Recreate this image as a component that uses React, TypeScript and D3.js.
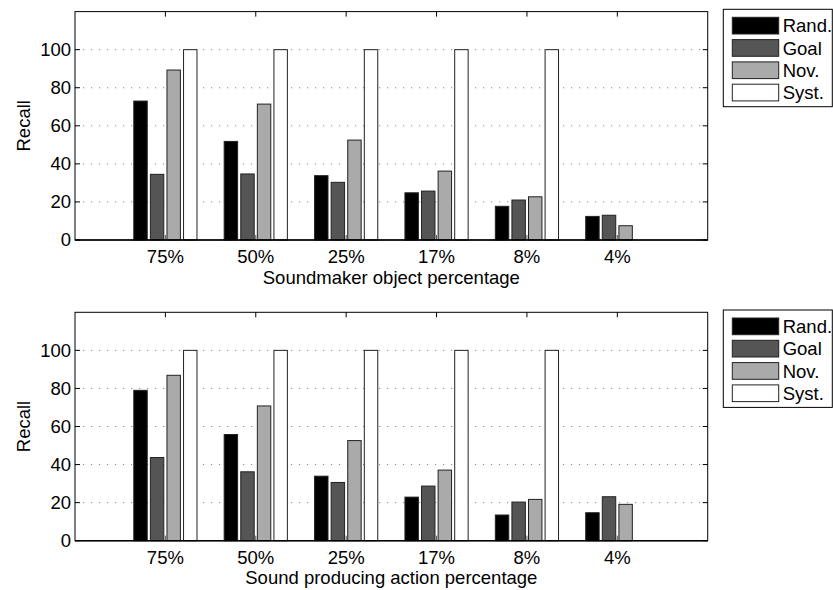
import React from "react";
import * as d3 from "d3";

const categories = ["75%", "50%", "25%", "17%", "8%", "4%"];
const series = ["Rand.", "Goal", "Nov.", "Syst."];
const seriesColors = ["#000000", "#555555", "#aaaaaa", "#ffffff"];
const yTicks = [0, 20, 40, 60, 80, 100];

// Top panel: Soundmaker object percentage
const topRand = [73.0, 51.8, 33.8, 24.8, 17.7, 12.4];
const topGoal = [34.5, 34.7, 30.3, 25.7, 21.0, 13.0];
const topNov = [89.3, 71.4, 52.5, 36.2, 22.7, 7.5];
const topSyst = [100, 100, 100, 100, 100, 0];

// Bottom panel: Sound producing action percentage
const botRand = [79.0, 55.8, 33.9, 22.9, 13.5, 14.7];
const botGoal = [43.7, 36.2, 30.6, 28.7, 20.3, 23.1];
const botNov = [86.9, 70.8, 52.6, 37.1, 21.7, 19.1];
const botSyst = [100, 100, 100, 100, 100, 0];

const topLabel = "Soundmaker object percentage";
const botLabel = "Sound producing action percentage";

const FONT = "'Liberation Sans', Arial, Helvetica, sans-serif";
const FS = 18.5;

type PanelProps = { offsetY: number; values: number[][]; xLabel: string };

function Panel({ offsetY, values, xLabel }: PanelProps) {
  const left = 75;
  const right = 707.7;
  const top = 11.6;
  const bottom = 240;
  const x = d3.scaleLinear().domain([0, 7]).range([left, right]);
  const y = d3.scaleLinear().domain([0, 120]).range([bottom, top]);
  const step = x(1) - x(0);
  const groupW = 0.734 * step;
  const sub = d3
    .scaleBand<string>()
    .domain(series)
    .range([-groupW / 2, groupW / 2])
    .paddingInner(0.19)
    .paddingOuter(0.095);
  const tickLen = 5;

  // legend
  const lgX = 723.3;
  const lgY = 9.3;
  const lgW = 109;
  const lgH = 97.4;
  const rowH = 22.3;

  return (
    <g transform={`translate(0,${offsetY})`}>
      <rect x={left} y={top} width={right - left} height={bottom - top} fill="#fff" />
      {/* grid */}
      {yTicks
        .filter((t) => t > 0)
        .map((t) => (
          <line
            key={`g${t}`}
            x1={left}
            x2={right}
            y1={y(t)}
            y2={y(t)}
            stroke="#888"
            strokeWidth={1}
            strokeDasharray="1.2,6.8"
          />
        ))}
      {/* bars */}
      {categories.map((c, i) =>
        series.map((s, j) => {
          const v = values[j][i];
          if (v <= 0) return null;
          const bx = x(i + 1) + (sub(s) as number);
          return (
            <rect
              key={`b${i}-${j}`}
              x={bx}
              y={y(v)}
              width={sub.bandwidth()}
              height={y(0) - y(v)}
              fill={seriesColors[j]}
              stroke="#222"
              strokeWidth={1}
            />
          );
        })
      )}
      {/* x ticks inside top & bottom */}
      {categories.map((c, i) => (
        <g key={`xt${i}`}>
          <line x1={x(i + 1)} x2={x(i + 1)} y1={bottom} y2={bottom - tickLen} stroke="#555" strokeWidth={1} />
          <line x1={x(i + 1)} x2={x(i + 1)} y1={top} y2={top + tickLen} stroke="#000" strokeWidth={1} />
          <text
            x={x(i + 1)}
            y={263}
            textAnchor="middle"
            fontFamily={FONT}
            fontSize={FS}
            fill="#000"
          >
            {c}
          </text>
        </g>
      ))}
      {/* y ticks */}
      {yTicks.map((t) => (
        <g key={`yt${t}`}>
          <line x1={left} x2={left + tickLen} y1={y(t)} y2={y(t)} stroke="#000" strokeWidth={1} />
          <line x1={right} x2={right - tickLen} y1={y(t)} y2={y(t)} stroke="#000" strokeWidth={1} />
          <text
            x={left - 4}
            y={y(t)}
            dy="0.35em"
            textAnchor="end"
            fontFamily={FONT}
            fontSize={FS}
            fill="#000"
          >
            {t}
          </text>
        </g>
      ))}
      {/* frame */}
      <rect x={left} y={top} width={right - left} height={bottom - top} fill="none" stroke="#000" strokeWidth={1} />
      <line x1={left} x2={right} y1={bottom} y2={bottom} stroke="#000" strokeWidth={1.5} />
      {/* labels */}
      <text
        x={(left + right) / 2}
        y={283.5}
        textAnchor="middle"
        fontFamily={FONT}
        fontSize={FS}
        fill="#000"
      >
        {xLabel}
      </text>
      <text
        transform={`translate(30,${(top + bottom) / 2}) rotate(-90)`}
        textAnchor="middle"
        fontFamily={FONT}
        fontSize={FS}
        fill="#000"
      >
        Recall
      </text>
      {/* legend */}
      <rect x={lgX} y={lgY} width={lgW} height={lgH} fill="#fff" stroke="#000" strokeWidth={1} />
      {series.map((s, j) => (
        <g key={`lg${j}`}>
          <rect
            x={732.3}
            y={lgY + 8 + j * rowH}
            width={46.4}
            height={16.7}
            fill={seriesColors[j]}
            stroke="#222"
            strokeWidth={1}
          />
          <text
            x={782.7}
            y={lgY + 8 + j * rowH + 8.35}
            dy="0.36em"
            fontFamily={FONT}
            fontSize={FS}
            fill="#000"
          >
            {s}
          </text>
        </g>
      ))}
    </g>
  );
}

export default function App() {
  return (
    <svg
      width={833}
      height={590}
      style={{ position: "absolute", left: 0, top: 0, background: "#fff" }}
    >
      <rect x={0} y={0} width={833} height={590} fill="#fff" />
      <Panel offsetY={0} values={[topRand, topGoal, topNov, topSyst]} xLabel={topLabel} />
      <Panel offsetY={300.7} values={[botRand, botGoal, botNov, botSyst]} xLabel={botLabel} />
    </svg>
  );
}
